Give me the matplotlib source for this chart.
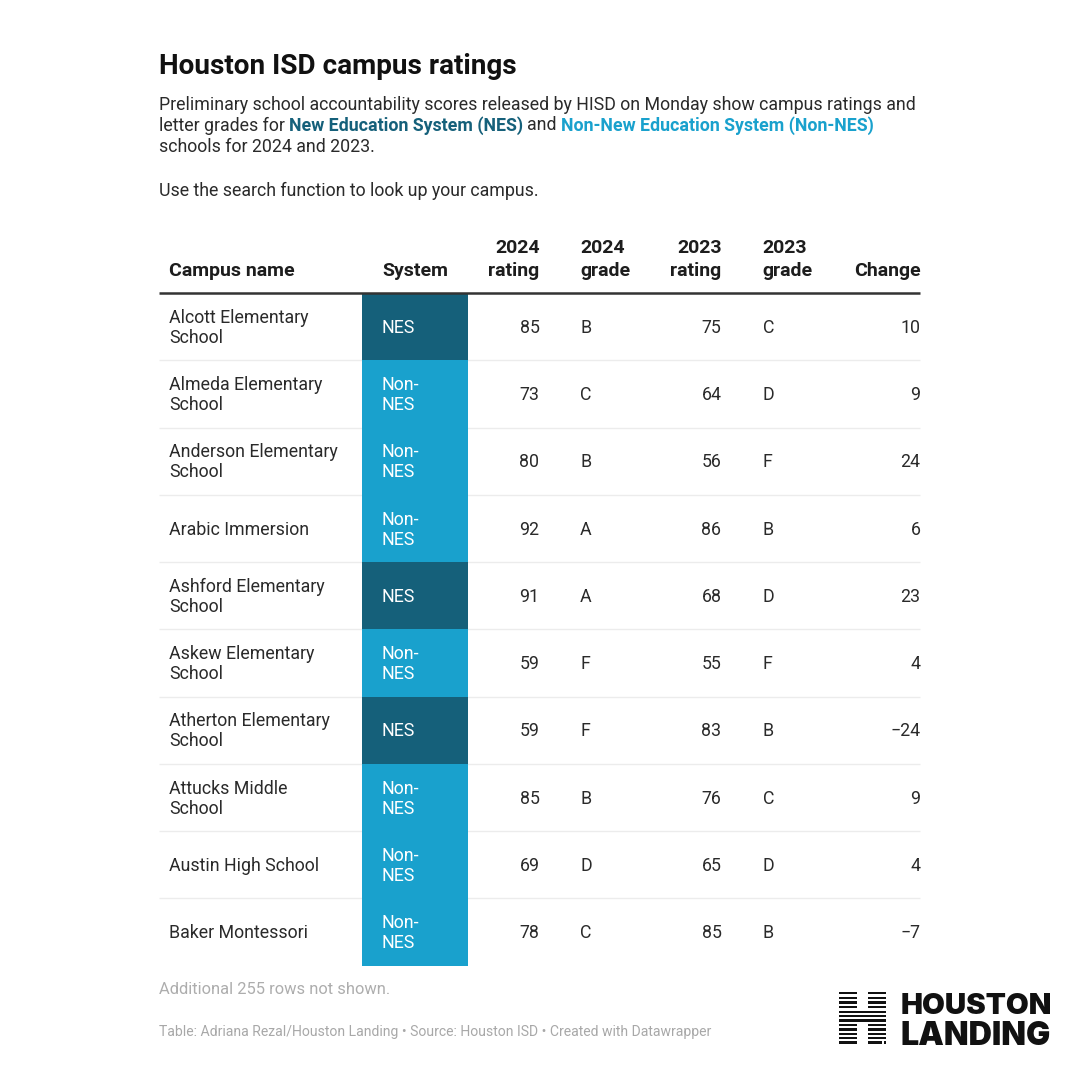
import matplotlib
matplotlib.use("Agg")
import matplotlib.pyplot as plt
from matplotlib.patches import Rectangle

plt.rcParams["font.family"] = ["Roboto", "DejaVu Sans"]

campus = ["Alcott Elementary\nSchool", "Almeda Elementary\nSchool", "Anderson Elementary\nSchool",
          "Arabic Immersion", "Ashford Elementary\nSchool", "Askew Elementary\nSchool",
          "Atherton Elementary\nSchool", "Attucks Middle\nSchool", "Austin High School",
          "Baker Montessori"]
system = ["NES", "Non-\nNES", "Non-\nNES", "Non-\nNES", "NES", "Non-\nNES", "NES",
          "Non-\nNES", "Non-\nNES", "Non-\nNES"]
rating_2024 = [85, 73, 80, 92, 91, 59, 59, 85, 69, 78]
grade_2024 = ["B", "C", "B", "A", "A", "F", "F", "B", "D", "C"]
rating_2023 = [75, 64, 56, 86, 68, 55, 83, 76, 65, 85]
grade_2023 = ["C", "D", "F", "B", "D", "F", "B", "C", "D", "B"]
change = [10, 9, 24, 6, 23, 4, -24, 9, 4, -7]

NES_COLOR = "#15607a"
NON_COLOR = "#19a1cd"
INK = "#2a2a2a"
BODY = 12.8  # roughly 18px at dpi 100

fig = plt.figure(figsize=(10.8, 10.8), dpi=100)
ax = fig.add_axes([0, 0, 1, 1])
ax.set_xlim(0, 1080)
ax.set_ylim(1080, 0)
ax.axis("off")


def chain(x, y, parts):
    """Draw text pieces one after the other on a line."""
    r = fig.canvas.get_renderer()
    for s, color, weight in parts:
        t = ax.text(x, y, s, color=color, fontweight=weight, fontsize=BODY, va="center_baseline")
        x = ax.transData.inverted().transform(t.get_window_extent(r))[1][0]
        x += 4.3


ax.text(158.7, 63, "Houston ISD campus ratings", fontsize=20.05, fontweight="bold", color="#111111",
        va="center_baseline")
ax.text(158.7, 102.5, "Preliminary school accountability scores released by HISD on Monday show campus ratings and",
        fontsize=BODY, color=INK, va="center_baseline")
chain(158.7, 123.5, [("letter grades for", INK, "normal"),
                     ("New Education System (NES)", NES_COLOR, "bold"),
                     ("and", INK, "normal"),
                     ("Non-New Education System (Non-NES)", NON_COLOR, "bold")])
ax.text(158.7, 145.5, "schools for 2024 and 2023.", fontsize=BODY, color=INK, va="center_baseline")
ax.text(158.7, 188.5, "Use the search function to look up your campus.", fontsize=BODY, color=INK,
        va="center_baseline")

# header
hdr = dict(fontsize=14.0, fontweight="bold", color="#1d1d1d", linespacing=1.36, va="bottom")
ax.text(169, 280.5, "Campus name", ha="left", **hdr)
ax.text(382, 280.5, "System", ha="left", **hdr)
ax.text(539.5, 280.5, "2024\nrating", ha="right", **hdr)
ax.text(580, 280.5, "2024\ngrade", ha="left", **hdr)
ax.text(721.5, 280.5, "2023\nrating", ha="right", **hdr)
ax.text(762.5, 280.5, "2023\ngrade", ha="left", **hdr)
ax.text(920.5, 280.5, "Change", ha="right", **hdr)

top, row_h = 293.0, 67.25
cell = dict(fontsize=BODY, color=INK, va="center", linespacing=1.14)
for i in range(len(campus)):
    y0 = top + i * row_h
    ym = y0 + row_h / 2 + 1.2
    is_nes = system[i] == "NES"
    if i > 0:
        ax.plot([159, 920], [y0, y0], color="#ececec", lw=1, zorder=1, solid_capstyle="butt")
    ax.add_patch(Rectangle((362, y0), 106, row_h, color=NES_COLOR if is_nes else NON_COLOR, lw=0, zorder=2))
    ax.text(169, ym, campus[i], ha="left", **cell)
    ax.text(381.7, ym, system[i], ha="left", zorder=3, **{**cell, "color": "white"})
    ax.text(539.5, ym, str(rating_2024[i]), ha="right", **cell)
    ax.text(580, ym, grade_2024[i], ha="left", **cell)
    ax.text(721.5, ym, str(rating_2023[i]), ha="right", **cell)
    ax.text(762.7, ym, grade_2023[i], ha="left", **cell)
    ax.text(920.5, ym, str(change[i]).replace("-", "\u2212"), ha="right", **cell)

ax.plot([159, 920], [292.5, 292.5], color="#333333", lw=1.8, zorder=4, solid_capstyle="butt")

ax.text(158.7, 987.5, "Additional 255 rows not shown.", fontsize=11.9, color="#adadad", va="center_baseline")
ax.text(158.7, 1030.5, "Table: Adriana Rezal/Houston Landing \u2022 Source: Houston ISD \u2022 Created with Datawrapper",
        fontsize=10.08, color="#a8a8a8", va="center_baseline")

# logo: striped H
stripes = [993, 997.7, 1002.3, 1006.7, 1011.7, 1016, 1020.3, 1024.7, 1029.3, 1033.7, 1038, 1042.3]
for k, sy in enumerate(stripes):
    if 4 <= k <= 6:
        ax.add_patch(Rectangle((839, sy - 1), 47, 2.2, color="#111111", lw=0))
    elif k == 11:
        ax.add_patch(Rectangle((839, sy - 1), 18, 2.2, color="#111111", lw=0))
        ax.add_patch(Rectangle((868, sy - 1), 14, 2.2, color="#111111", lw=0))
        ax.add_patch(Rectangle((884, sy - 1), 2, 2.2, color="#111111", lw=0))
    else:
        ax.add_patch(Rectangle((839, sy - 1), 18, 2.2, color="#111111", lw=0))
        ax.add_patch(Rectangle((868, sy - 1), 18, 2.2, color="#111111", lw=0))
ax.text(901, 1004, "HOUSTON", fontsize=21.2, fontweight="black", color="#111111", va="center_baseline",
        family=["Inter", "Roboto"])
ax.text(901, 1033, "LANDING", fontsize=23.2, fontweight="black", color="#111111", va="center_baseline",
        family=["Inter", "Roboto"])

fig.savefig("out.png", dpi=100, facecolor="white")
